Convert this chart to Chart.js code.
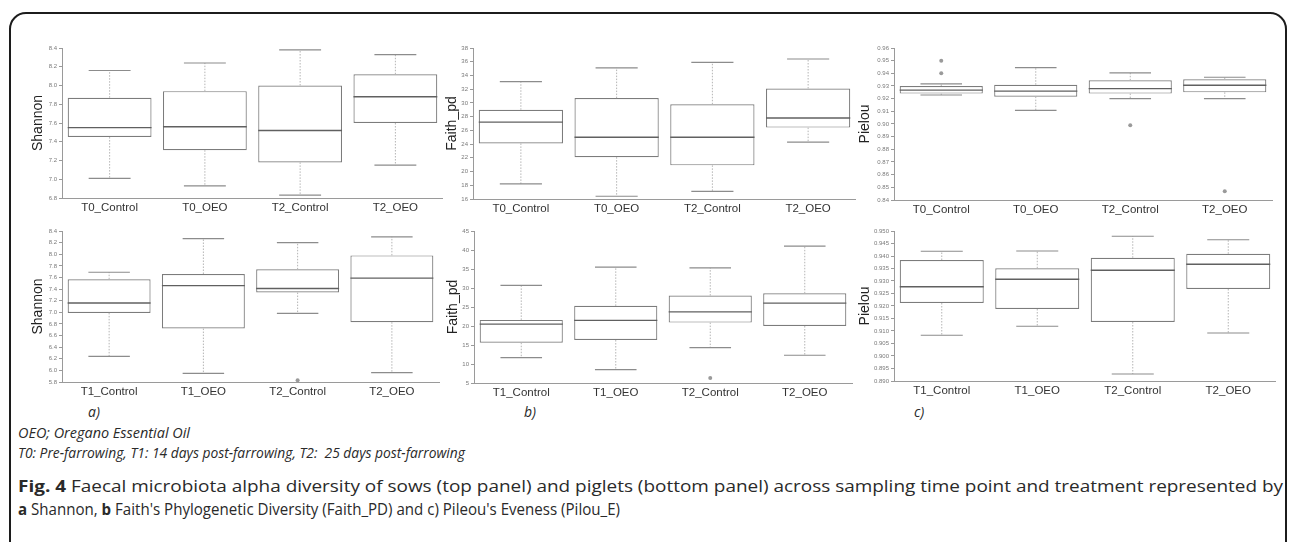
<!DOCTYPE html>
<html>
<head>
<meta charset="utf-8">
<script src="https://cdn.jsdelivr.net/npm/chart.js@4/dist/chart.umd.min.js"></script>
<style>
  body { margin: 0; width: 1290px; height: 542px; background: #fff; position: relative; overflow: hidden; }
  .frame { position: absolute; left: 9px; top: 12px; width: 1274px; height: 620px; border: 2px solid #1c1c1c; border-radius: 17px; }
  .panel { position: absolute; }
  .txt { position: absolute; white-space: nowrap; line-height: 20px; transform-origin: 0 50%; font-family: "Open Sans", sans-serif; color: #2a2a2a; }
  .it { font-style: italic; font-size: 14px; }
  .cap { font-size: 16.5px; }
</style>
</head>
<body>
<div class="frame"></div>

<div class="txt it" style="left:88px;top:402px">a)</div>
<div class="txt it" style="left:524px;top:402px">b)</div>
<div class="txt it" style="left:914px;top:402px">c)</div>
<div class="txt it fit" data-w="172" style="left:18px;top:423px">OEO; Oregano Essential Oil</div>
<div class="txt it fit" data-w="447" style="left:18px;top:443px">T0: Pre-farrowing, T1: 14 days post-farrowing, T2:&nbsp; 25 days post-farrowing</div>
<div class="txt cap fit" data-w="1265" style="left:18px;top:476px"><b>Fig. 4</b> Faecal microbiota alpha diversity of sows (top panel) and piglets (bottom panel) across sampling time point and treatment represented by</div>
<div class="txt cap fit" data-w="602" style="left:18px;top:499px"><b>a</b> Shannon, <b>b</b> Faith's Phylogenetic Diversity (Faith_PD) and c) Pileou's Eveness (Pilou_E)</div>

<script>
// categories
const groupsSows = ['T0_Control', 'T0_OEO', 'T2_Control', 'T2_OEO'];
const groupsPiglets = ['T1_Control', 'T1_OEO', 'T2_Control', 'T2_OEO'];

// a) Shannon, sows
const shanSowMin = [7.01, 6.93, 6.83, 7.15];
const shanSowQ1  = [7.45, 7.31, 7.18, 7.60];
const shanSowMed = [7.55, 7.56, 7.52, 7.88];
const shanSowQ3  = [7.87, 7.94, 8.00, 8.12];
const shanSowMax = [8.16, 8.24, 8.38, 8.33];
const shanSowOut = [];
const shanSowTicks = ['6.8', '7.0', '7.2', '7.4', '7.6', '7.8', '8.0', '8.2', '8.4'];

// a) Shannon, piglets
const shanPigMin = [6.24, 5.95, 6.98, 5.96];
const shanPigQ1  = [6.99, 6.72, 7.34, 6.83];
const shanPigMed = [7.16, 7.46, 7.41, 7.59];
const shanPigQ3  = [7.57, 7.66, 7.74, 7.98];
const shanPigMax = [7.69, 8.27, 8.20, 8.30];
const shanPigOut = [['T2_Control', 5.83]];
const shanPigTicks = ['5.8', '6.0', '6.2', '6.4', '6.6', '6.8', '7.0', '7.2', '7.4', '7.6', '7.8', '8.0', '8.2', '8.4'];

// b) Faith_pd, sows
const faithSowMin = [18.2, 16.4, 17.1, 24.3];
const faithSowQ1  = [24.1, 22.1, 20.9, 26.4];
const faithSowMed = [27.2, 25.0, 25.0, 27.8];
const faithSowQ3  = [29.0, 30.7, 29.8, 32.1];
const faithSowMax = [33.1, 35.1, 35.9, 36.4];
const faithSowOut = [];
const faithSowTicks = ['16', '18', '20', '22', '24', '26', '28', '30', '32', '34', '36', '38'];

// b) Faith_pd, piglets
const faithPigMin = [11.7, 8.5, 14.3, 12.3];
const faithPigQ1  = [15.6, 16.3, 20.9, 20.0];
const faithPigMed = [20.5, 21.5, 23.7, 26.0];
const faithPigQ3  = [21.6, 25.3, 28.0, 28.6];
const faithPigMax = [30.7, 35.5, 35.3, 41.0];
const faithPigOut = [['T2_Control', 6.3]];
const faithPigTicks = ['5', '10', '15', '20', '25', '30', '35', '40', '45'];

// c) Pielou, sows
const pielSowMin = [0.9229, 0.9108, 0.9200, 0.9200];
const pielSowQ1  = [0.9240, 0.9216, 0.9240, 0.9250];
const pielSowMed = [0.9268, 0.9260, 0.9280, 0.9306];
const pielSowQ3  = [0.9300, 0.9310, 0.9345, 0.9353];
const pielSowMax = [0.9316, 0.9445, 0.9403, 0.9369];
const pielSowOut = [['T0_Control', 0.950], ['T0_Control', 0.940], ['T2_Control', 0.899], ['T2_OEO', 0.847]];
const pielSowTicks = ['0.84', '0.85', '0.86', '0.87', '0.88', '0.89', '0.90', '0.91', '0.92', '0.93', '0.94', '0.95', '0.96'];

// c) Pielou, piglets
const pielPigMin = [0.9083, 0.9119, 0.8928, 0.9092];
const pielPigQ1  = [0.9212, 0.9188, 0.9136, 0.9268];
const pielPigMed = [0.9277, 0.9307, 0.9343, 0.9367];
const pielPigQ3  = [0.9384, 0.9351, 0.9393, 0.9409];
const pielPigMax = [0.9419, 0.9420, 0.9479, 0.9465];
const pielPigOut = [];
const pielPigTicks = ['0.890', '0.895', '0.900', '0.905', '0.910', '0.915', '0.920', '0.925', '0.930', '0.935', '0.940', '0.945', '0.950'];

const FONT = '"Liberation Sans", Arial, sans-serif';
const AXIS = '#9a9a9a';

function makePanel(p) {
  const cv = document.createElement('canvas');
  const left = p.axisX - 40, top = p.topY - 10;
  cv.width = p.rightX - left + 3;
  cv.height = p.bottomY - top + 22;
  cv.className = 'panel';
  cv.style.left = left + 'px';
  cv.style.top = top + 'px';
  document.body.appendChild(cv);

  // whiskers + median drawn through the chart's own scales
  const whiskers = {
    id: 'whiskers',
    afterDatasetsDraw(chart) {
      const y = chart.scales.y, ctx = chart.ctx;
      const bars = chart.getDatasetMeta(0).data;
      ctx.save();
      bars.forEach((bar, i) => {
        const cx = bar.x, hw = bar.width / 2, cw = bar.width * 0.25;
        const yMin = y.getPixelForValue(p.min[i]), yMax = y.getPixelForValue(p.max[i]);
        const yQ1 = y.getPixelForValue(p.q1[i]), yQ3 = y.getPixelForValue(p.q3[i]);
        const yMed = y.getPixelForValue(p.med[i]);
        ctx.strokeStyle = '#b4b4b4';
        ctx.lineWidth = 1;
        ctx.setLineDash([1.5, 1.5]);
        ctx.beginPath();
        ctx.moveTo(cx, yQ3); ctx.lineTo(cx, yMax);
        ctx.moveTo(cx, yQ1); ctx.lineTo(cx, yMin);
        ctx.stroke();
        ctx.setLineDash([]);
        ctx.strokeStyle = '#8c8c8c';
        ctx.lineWidth = 1.2;
        ctx.beginPath();
        ctx.moveTo(cx - cw, yMax); ctx.lineTo(cx + cw, yMax);
        ctx.moveTo(cx - cw, yMin); ctx.lineTo(cx + cw, yMin);
        ctx.stroke();
        ctx.strokeStyle = '#606060';
        ctx.lineWidth = 1.3;
        ctx.beginPath();
        ctx.moveTo(cx - hw, yMed); ctx.lineTo(cx + hw, yMed);
        ctx.stroke();
      });
      ctx.restore();
    }
  };

  const tickVals = p.ticks.map(Number);

  new Chart(cv, {
    type: 'bar',
    data: {
      labels: p.labels,
      datasets: [
        {
          data: p.q1.map((v, i) => [v, p.q3[i]]),
          backgroundColor: '#fff',
          borderColor: '#7c7c7c',
          borderWidth: 1.2,
          borderSkipped: false,
          barPercentage: 0.88,
          categoryPercentage: 1,
          order: 2
        },
        {
          type: 'line',
          data: p.out.map(o => ({ x: o[0], y: o[1] })),
          showLine: false,
          pointRadius: 2,
          pointBackgroundColor: '#9a9a9a',
          pointBorderWidth: 0,
          order: 1
        }
      ]
    },
    options: {
      responsive: false,
      animation: false,
      layout: { padding: { top: 10, right: 0, bottom: 0, left: 0 } },
      plugins: { legend: { display: false }, tooltip: { enabled: false } },
      scales: {
        x: {
          grid: { display: false, drawTicks: false },
          border: { color: AXIS, width: 1 },
          ticks: { color: '#333', font: { size: 11.5, family: FONT }, padding: 3, maxRotation: 0, autoSkip: false },
          afterFit(s) { s.height = 22; }
        },
        y: {
          min: tickVals[0],
          max: tickVals[tickVals.length - 1],
          afterBuildTicks(s) { s.ticks = tickVals.map(v => ({ value: v })); },
          ticks: { color: '#7a7a7a', font: { size: 6, family: FONT }, padding: 2, autoSkip: false,
                   callback: (v, i) => p.ticks[i] },
          grid: { drawOnChartArea: false, tickLength: 3, color: AXIS },
          border: { color: AXIS, width: 1 },
          title: { display: true, text: p.title, color: '#222', font: { size: 14, family: FONT },
                   padding: { top: p.titlePad, bottom: 0 } },
          afterFit(s) { s.width = 40; }
        }
      }
    },
    plugins: [whiskers]
  });
}

makePanel({ labels: groupsSows, title: 'Shannon', axisX: 62, rightX: 440, topY: 48, bottomY: 198, titlePad: 7.6,
  min: shanSowMin, q1: shanSowQ1, med: shanSowMed, q3: shanSowQ3, max: shanSowMax, out: shanSowOut, ticks: shanSowTicks });
makePanel({ labels: groupsSows, title: 'Faith_pd', axisX: 473, rightX: 853, topY: 48, bottomY: 199, titlePad: 10.6,
  min: faithSowMin, q1: faithSowQ1, med: faithSowMed, q3: faithSowQ3, max: faithSowMax, out: faithSowOut, ticks: faithSowTicks });
makePanel({ labels: groupsSows, title: 'Pielou', axisX: 894, rightX: 1273, topY: 48, bottomY: 200, titlePad: 2.6,
  min: pielSowMin, q1: pielSowQ1, med: pielSowMed, q3: pielSowQ3, max: pielSowMax, out: pielSowOut, ticks: pielSowTicks });

makePanel({ labels: groupsPiglets, title: 'Shannon', axisX: 62, rightX: 440, topY: 231, bottomY: 382, titlePad: 7.6,
  min: shanPigMin, q1: shanPigQ1, med: shanPigMed, q3: shanPigQ3, max: shanPigMax, out: shanPigOut, ticks: shanPigTicks });
makePanel({ labels: groupsPiglets, title: 'Faith_pd', axisX: 474, rightX: 853, topY: 231, bottomY: 383, titlePad: 10.6,
  min: faithPigMin, q1: faithPigQ1, med: faithPigMed, q3: faithPigQ3, max: faithPigMax, out: faithPigOut, ticks: faithPigTicks });
makePanel({ labels: groupsPiglets, title: 'Pielou', axisX: 894, rightX: 1273, topY: 231, bottomY: 381, titlePad: 2.6,
  min: pielPigMin, q1: pielPigQ1, med: pielPigMed, q3: pielPigQ3, max: pielPigMax, out: pielPigOut, ticks: pielPigTicks });

// squeeze caption lines to the widths they have in the figure
document.querySelectorAll('.fit').forEach(el => {
  const w = el.getBoundingClientRect().width;
  el.style.transform = 'scaleX(' + (Number(el.dataset.w) / w) + ')';
});
</script>
</body>
</html>
